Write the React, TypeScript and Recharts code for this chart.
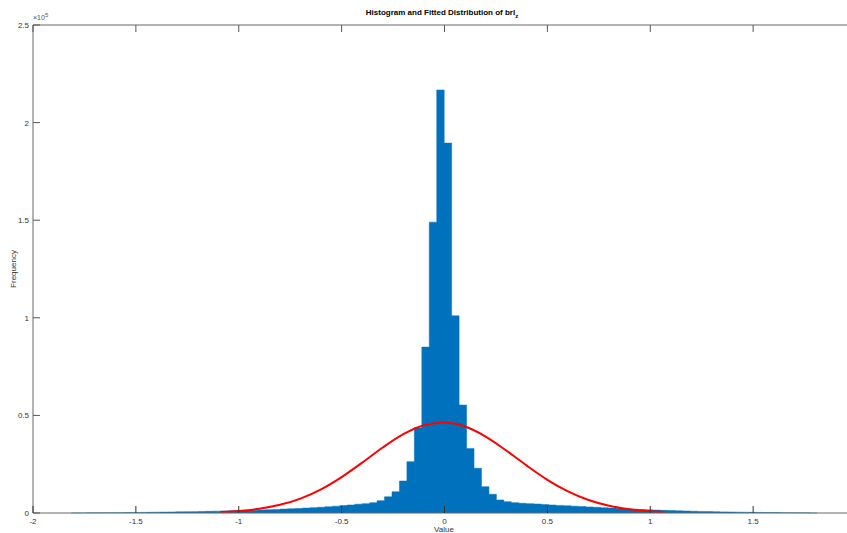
import { ComposedChart, Area, Line, XAxis, YAxis } from 'recharts';

// histogram: 100 bins, left edge + width
const binStart = -1.814;
const binWidth = 0.03625;
const counts = [
  40, 60, 80, 100, 130, 160, 190, 230, 270, 310,
  360, 410, 460, 520, 580, 640, 700, 780, 860, 940,
  1030, 1120, 1220, 1330, 1450, 1570, 1700, 1840, 1990, 2150,
  2330, 2520, 2730, 2950, 3200, 3480, 3780, 4100, 4500, 4800,
  5300, 6300, 8300, 10900, 16400, 26300, 43700, 85000, 149000, 216700,
  189500, 101000, 55300, 33100, 22900, 13500, 9600, 6700, 5800, 5300,
  5000, 4800, 4600, 4400, 4100, 3900, 3700, 3500, 3300, 3100,
  2900, 2700, 2500, 2300, 2100, 1950, 1800, 1650, 1500, 1370,
  1250, 1130, 1020, 920, 820, 730, 650, 570, 500, 440,
  380, 330, 280, 240, 200, 160, 130, 100, 70, 40,
];

// fitted curve
const fitX = [-1.09, -1.0, -0.9, -0.8, -0.7, -0.6, -0.5, -0.4, -0.3, -0.2, -0.1, 0, 0.1, 0.2, 0.3, 0.4, 0.5, 0.6, 0.7, 0.8, 0.9, 1.0, 1.07];
const fitY = [500, 1060, 2190, 4180, 7390, 12110, 18380, 25800, 33540, 40380, 44970, 46380, 44280, 39150, 32030, 24260, 17010, 11050, 6640, 3690, 1900, 910, 520];

// axis runs to 2 but the picture is cropped just before it
const xTicks = [-2, -1.5, -1, -0.5, 0, 0.5, 1, 1.5];
const yTicks = [0, 50000, 100000, 150000, 200000, 250000];

const histData = counts.map((c, i) => ({ x: binStart + i * binWidth, count: c }));
histData.push({ x: binStart + counts.length * binWidth, count: counts[counts.length - 1] });
const fitData = fitX.map((x, i) => ({ x, y: fitY[i] }));

const font = '"Liberation Sans", Arial, sans-serif';
const axisColor = '#666';

const BottomTick = (props: any) => {
  const { x, y, payload } = props;
  return (
    <g>
      <line x1={x} x2={x} y1={y} y2={y - 7} stroke="#333" />
      <text x={x} y={y + 11} textAnchor="middle" fontSize={8} fill="#333" fontFamily={font}>
        {payload.value}
      </text>
    </g>
  );
};

const TopTick = (props: any) => {
  const { x, y } = props;
  return <line x1={x} x2={x} y1={y} y2={y + 7} stroke="#555" />;
};

const LeftTick = (props: any) => {
  const { x, y, payload } = props;
  return (
    <g>
      <line x1={x} x2={x + 7} y1={y} y2={y} stroke="#555" />
      <text x={x - 4} y={y + 3} textAnchor="end" fontSize={8} fill="#333" fontFamily={font}>
        {payload.value / 1e5}
      </text>
    </g>
  );
};

export default function App() {
  return (
    <div style={{ position: 'absolute', left: 0, top: 0, width: 847, height: 533, overflow: 'hidden', background: '#fff', fontFamily: font }}>
      <ComposedChart width={856} height={533} margin={{ top: 0, right: 0, bottom: 0, left: 0 }}>
        <Area
          data={histData}
          dataKey="count"
          type="stepAfter"
          fill="#0072BD"
          fillOpacity={1}
          stroke="#0072BD"
          strokeWidth={0.5}
          isAnimationActive={false}
        />
        <Line
          data={fitData}
          dataKey="y"
          type="monotone"
          stroke="#FF0000"
          strokeWidth={2}
          dot={false}
          isAnimationActive={false}
        />
        <XAxis
          dataKey="x"
          type="number"
          domain={[-2, 2]}
          ticks={xTicks}
          allowDataOverflow
          height={20}
          stroke={axisColor}
          tickLine={false}
          tickSize={0}
          tickMargin={0}
          tick={<BottomTick />}
        />
        <XAxis
          xAxisId="top"
          orientation="top"
          dataKey="x"
          type="number"
          domain={[-2, 2]}
          ticks={xTicks}
          allowDataOverflow
          height={25}
          stroke={axisColor}
          tickLine={false}
          tickSize={0}
          tickMargin={0}
          tick={<TopTick />}
        />
        <YAxis
          type="number"
          domain={[0, 250000]}
          ticks={yTicks}
          width={33}
          stroke={axisColor}
          tickLine={false}
          tickSize={0}
          tickMargin={0}
          tick={<LeftTick />}
        />
      </ComposedChart>
      <div style={{ position: 'absolute', left: 0, width: 884, top: 8, textAlign: 'center', fontSize: 8, fontWeight: 'bold', color: '#000' }}>
        Histogram and Fitted Distribution of brl<sub style={{ fontSize: 6 }}>z</sub>
      </div>
      <div style={{ position: 'absolute', left: 33, top: 12, fontSize: 7, color: '#555' }}>
        ×10<sup style={{ fontSize: 6 }}>5</sup>
      </div>
      <div style={{ position: 'absolute', left: 13, top: 269, transform: 'translate(-50%, -50%) rotate(-90deg)', fontSize: 8, color: '#333', whiteSpace: 'nowrap' }}>
        Frequency
      </div>
      <div style={{ position: 'absolute', left: 0, width: 888, top: 525, textAlign: 'center', fontSize: 8, color: '#333' }}>
        Value
      </div>
    </div>
  );
}
